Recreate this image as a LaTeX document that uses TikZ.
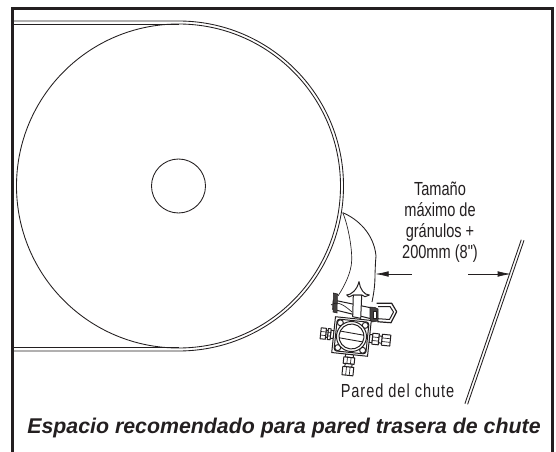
\documentclass[tikz,border=0pt]{standalone}
\usepackage{fontspec}
\setmainfont{Liberation Sans}
\newfontfamily\narrowfont[FakeStretch=0.77]{Liberation Sans}
\newfontfamily\widenarrowfont[FakeStretch=0.77,LetterSpace=5]{Liberation Sans}
\usetikzlibrary{arrows.meta}
\definecolor{ink}{HTML}{231F20}
\tikzset{
  thinline/.style={draw=ink,line width=0.65pt},
  fineline/.style={draw=ink,line width=0.5pt},
  partline/.style={draw=ink,line width=0.75pt,fill=white,line join=round},
  frameline/.style={draw=ink,line width=1.9pt},
  dimarrow/.style={draw=ink,line width=0.55pt,-{Latex[length=10pt,width=4.2pt]}},
  lbl/.style={text=ink,inner sep=0pt,font=\narrowfont\fontsize{14.2}{15.7}\selectfont,align=center},
  lblwide/.style={text=ink,inner sep=0pt,font=\widenarrowfont\fontsize{14.2}{15.7}\selectfont},
  caption/.style={text=ink,inner sep=0pt,font=\fontsize{16}{18}\selectfont\bfseries\itshape}
}
\newcommand{\myfitting}[2]{%
  \begin{scope}[rotate=#1]
    \draw[partline] (18,-4) rectangle (21,4);
    \draw[partline] (21,-5.5) rectangle (#2*0.45+18,5.5);
    \draw[partline] (#2*0.45+18,-3.5) rectangle (#2*0.6+18,3.5);
    \draw[partline] (#2*0.6+18,-5.5) rectangle (#2+18,5.5);
    \draw[fineline] (21,-1.8) -- (#2*0.45+18,-1.8) (21,1.8) -- (#2*0.45+18,1.8);
    \draw[fineline] (#2*0.6+18,-1.8) -- (#2+18,-1.8) (#2*0.6+18,1.8) -- (#2+18,1.8);
  \end{scope}}
\begin{document}
\begin{tikzpicture}[x=0.75pt,y=-0.75pt]
\useasboundingbox (0,0) rectangle (556,452);
% frame
\draw[frameline] (12.5,452) -- (12.5,8.5) -- (552.5,8.5) -- (552.5,452);
% wheel and belt
\draw[thinline] (178.5,186) circle[radius=162];
\draw[thinline] (178.5,186) circle[radius=27];
\draw[thinline] (13.5,21) -- (178.5,21) arc[start angle=-90,end angle=90,radius=165] -- (13.5,351);
\draw[thinline] (13.5,24.3) -- (178.5,24.3);
\draw[thinline] (13.5,347.9) -- (178.5,347.9);
% hoses
\draw[fineline] (342.7,212.7) .. controls (347,222) and (352,245) .. (351.7,260) .. controls (351.5,272) and (345,285) .. (338,296);
\draw[thinline] (342.7,212.7) .. controls (358,219) and (374,234) .. (376,256) -- (375.5,262) -- (375,274) .. controls (375,285) and (374,292) .. (372,302);
% chute wall
\draw[thinline] (524,240.3) -- (467.6,404.3);
\draw[thinline] (521.3,239.7) -- (464.9,403.7);
% device
\begin{scope}[shift={(351.5,336.5)},rotate=-6]
  \myfitting{0}{21}
  \myfitting{-90}{21}
  \myfitting{180}{13}
  \draw[partline] (-18,-18) rectangle (18,18);
  \draw[partline,rounded corners=2pt] (-16,-16) rectangle (16,16);
  \foreach \sx in {-1,1} \foreach \sy in {-1,1}
    \draw[partline] (12.5*\sx,12.5*\sy) circle[radius=3];
  \draw[partline] (0,0) circle[radius=15];
  \draw[partline] (0,0) circle[radius=12.5];
  \draw[thinline,rotate=-4] (-12.3,-3.4) -- (12.3,-3.4) (-12.3,3.4) -- (12.3,3.4);
\end{scope}
% ring, bar and stem
\draw[partline,line width=0.9pt] (376.7,303.3) -- (391.7,303.3) -- (396.7,311.7) -- (391,322.7) -- (377.3,321.7);
\draw[partline] (378,306.5) -- (390,306.5) -- (393.5,312) -- (389.5,319.5) -- (378,318.7);
\draw[partline] (333.3,300) -- (373.3,308.3) -- (373.3,319.3) -- (332.7,309.3) -- cycle;
\draw[partline] (346.7,295) .. controls (351,295) and (357,290) .. (359,281.7) .. controls (360,289) and (364,295) .. (369.3,295) -- (365,296.7) -- (361.7,295) -- (353.3,295) -- (349,297) -- cycle;
\draw[partline] (353.3,295) -- (352.7,316.7) -- (360.7,318.3) -- (361.7,295) -- cycle;
\draw[draw=ink,fill=ink!85!white,line width=0.4pt] (370,307) -- (375,307.5) -- (378,309) -- (378,321) -- (372,322) -- (370,319) -- cycle;
\draw[draw=ink,fill=white,line width=0.6pt] (373,311) rectangle (376,318);
\draw[draw=ink,fill=ink!85!white,line width=0.4pt] (333.5,293) -- (337.5,294) -- (337,313) -- (333,312) -- cycle;
\draw[fineline] (331,305) .. controls (338,300) and (345,306) .. (352,312);
% dimension arrows
\coordinate (dimLeftStart) at (411.7,274);
\coordinate (dimLeftEnd) at (375.3,274);
\coordinate (dimRightStart) at (468.3,274);
\coordinate (dimRightEnd) at (511,274);
\draw[dimarrow] (dimLeftStart) -- (dimLeftEnd);
\draw[dimarrow] (dimRightStart) -- (dimRightEnd);
% labels
\node[lbl] (size) at (440,222.5) {Tamaño\\máximo de\\gránulos +\\200mm (8")};
\node[lblwide] (wall) at (397.5,391) {Pared del chute};
\node[caption] (title) at (284,428) {Espacio recomendado para pared trasera de chute};
\end{tikzpicture}
\end{document}
